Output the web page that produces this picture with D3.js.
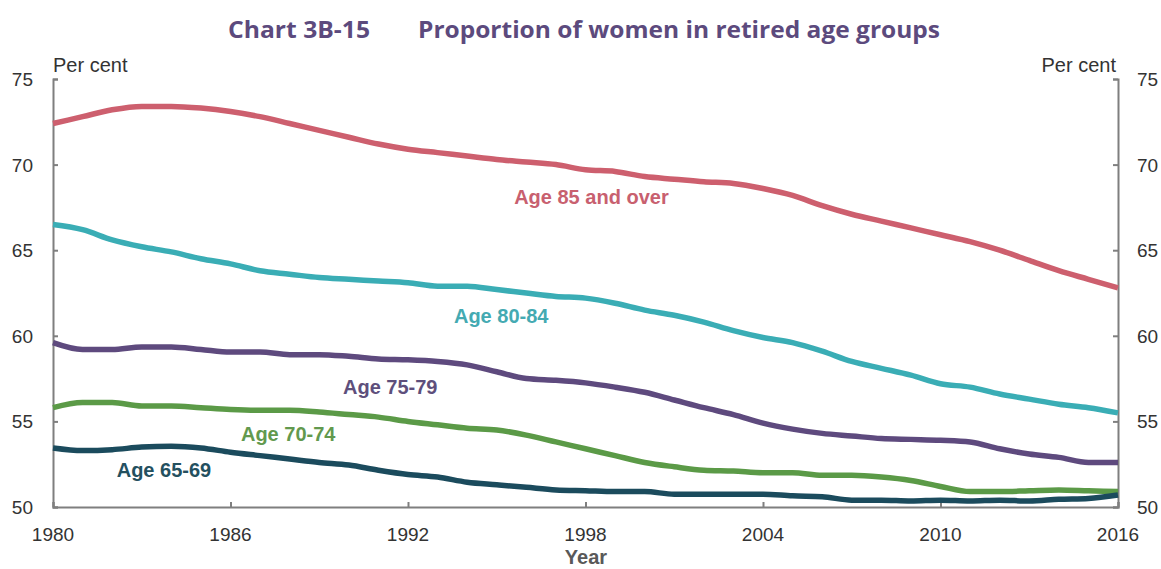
<!DOCTYPE html>
<html><head><meta charset="utf-8">
<script src="https://cdn.jsdelivr.net/npm/d3@7/dist/d3.min.js"></script>
<style>body{margin:0;background:#fff}svg{display:block}</style>
</head><body>
<svg id="c" width="1161" height="569"></svg>
<script>
const years = d3.range(1980, 2017);
const age85 = [72.4,72.8,73.2,73.4,73.4,73.3,73.1,72.8,72.4,72.0,71.6,71.2,70.9,70.7,70.5,70.3,70.15,70.0,69.7,69.6,69.3,69.15,69.0,68.9,68.6,68.2,67.6,67.1,66.7,66.3,65.9,65.5,65.0,64.4,63.8,63.3,62.8];
const age80 = [66.5,66.2,65.6,65.2,64.9,64.5,64.2,63.8,63.6,63.4,63.3,63.2,63.1,62.9,62.9,62.7,62.5,62.3,62.2,61.9,61.5,61.2,60.8,60.3,59.9,59.6,59.1,58.5,58.1,57.7,57.2,57.0,56.6,56.3,56.0,55.8,55.5];
const age75 = [59.6,59.2,59.2,59.35,59.35,59.2,59.05,59.05,58.9,58.9,58.8,58.65,58.6,58.5,58.3,57.9,57.5,57.4,57.25,57.0,56.7,56.25,55.8,55.4,54.9,54.55,54.3,54.15,54.0,53.95,53.9,53.8,53.4,53.1,52.9,52.6,52.6];
const age70 = [55.8,56.1,56.1,55.9,55.9,55.8,55.7,55.65,55.65,55.55,55.4,55.25,55.0,54.8,54.6,54.5,54.2,53.8,53.4,53.0,52.6,52.35,52.15,52.1,52.0,52.0,51.85,51.85,51.75,51.55,51.2,50.9,50.9,50.95,51.0,50.95,50.9];
const age65 = [53.45,53.3,53.35,53.5,53.55,53.45,53.2,53.0,52.8,52.6,52.45,52.15,51.9,51.75,51.45,51.3,51.15,51.0,50.95,50.9,50.9,50.75,50.75,50.75,50.75,50.65,50.6,50.4,50.4,50.35,50.4,50.35,50.4,50.35,50.45,50.5,50.7];
const xTicks = [1980,1986,1992,1998,2004,2010,2016];
const yTicks = [50,55,60,65,70,75];
const seriesNames = ["Age 85 and over","Age 80-84","Age 75-79","Age 70-74","Age 65-69"];
const seriesValues = [age85, age80, age75, age70, age65];
const colors = ["#cd5f6e","#3aadb5","#5e4a7e","#5b9a47","#1b4b5d"];
const labelColors = ["#c8606f","#44aab2","#5e4f7c","#62994e","#24505f"];
const labelYears = [1998.2,1995.15,1991.4,1987.95,1983.75];
const labelValues = [67.7,60.75,56.6,53.85,51.75];

const svg = d3.select("#c");
const L = 53, R = 1118, T = 79, B = 507;
const x = d3.scaleLinear().domain([1980,2016]).range([L,R]);
const y = d3.scaleLinear().domain([50,75]).range([B,T]);
const axisColor = "#7f7f7f";
const font = "'Liberation Sans', Arial, sans-serif";

// title
const title = svg.append("text").attr("y",38).attr("fill","#5c4a7d")
  .style("font-family","'Open Sans', Lato, sans-serif").style("font-weight","bold").style("font-size","23px");
title.append("tspan").attr("x",228).attr("textLength",142).attr("lengthAdjust","spacingAndGlyphs").text("Chart 3B-15");
title.append("tspan").attr("x",418).attr("textLength",522).attr("lengthAdjust","spacingAndGlyphs").text("Proportion of women in retired age groups");

// axes
const gl = svg.append("g").attr("transform",`translate(${L},0)`).call(d3.axisRight(y).tickValues(yTicks).tickSize(5).tickFormat(""));
const gr = svg.append("g").attr("transform",`translate(${R},0)`).call(d3.axisLeft(y).tickValues(yTicks).tickSize(5).tickFormat(""));
const gb = svg.append("g").attr("transform",`translate(0,${B})`).call(d3.axisTop(x).tickValues(xTicks).tickSize(5).tickFormat(""));
[gl,gr,gb].forEach(g=>{
  g.select(".domain").attr("stroke",axisColor).attr("stroke-width",2);
  g.selectAll(".tick line").attr("stroke",axisColor).attr("stroke-width",2);
});

// tick labels
const fs = "19px";
yTicks.forEach(v=>{
  svg.append("text").attr("x",33).attr("y",y(v)+7).attr("text-anchor","end").attr("fill","#333")
    .style("font-family",font).style("font-size",fs).text(v);
  svg.append("text").attr("x",1137).attr("y",y(v)+7).attr("text-anchor","start").attr("fill","#333")
    .style("font-family",font).style("font-size",fs).text(v);
});
xTicks.forEach(v=>{
  svg.append("text").attr("x",x(v)).attr("y",541).attr("text-anchor","middle").attr("fill","#333")
    .style("font-family",font).style("font-size",fs).text(v);
});
svg.append("text").attr("x",53).attr("y",72).attr("fill","#333").style("font-family",font).style("font-size","20px").text("Per cent");
svg.append("text").attr("x",1116).attr("y",72).attr("text-anchor","end").attr("fill","#333").style("font-family",font).style("font-size","20px").text("Per cent");
svg.append("text").attr("x",586).attr("y",564).attr("text-anchor","middle").attr("fill","#595959")
  .style("font-family",font).style("font-weight","bold").style("font-size","20px").text("Year");

// lines
const line = d3.line().x((d,i)=>x(years[i])).y(d=>y(d)).curve(d3.curveMonotoneX);
seriesValues.forEach((vals,k)=>{
  svg.append("path").datum(vals).attr("d",line).attr("fill","none")
    .attr("stroke",colors[k]).attr("stroke-width",5.5).attr("stroke-linejoin","round");
});

// labels
seriesNames.forEach((n,k)=>{
  svg.append("text").attr("x",x(labelYears[k])).attr("y",y(labelValues[k])).attr("text-anchor","middle")
    .attr("fill",labelColors[k]).style("font-family",font).style("font-weight","bold").style("font-size","20px").text(n);
});
</script>
</body></html>
